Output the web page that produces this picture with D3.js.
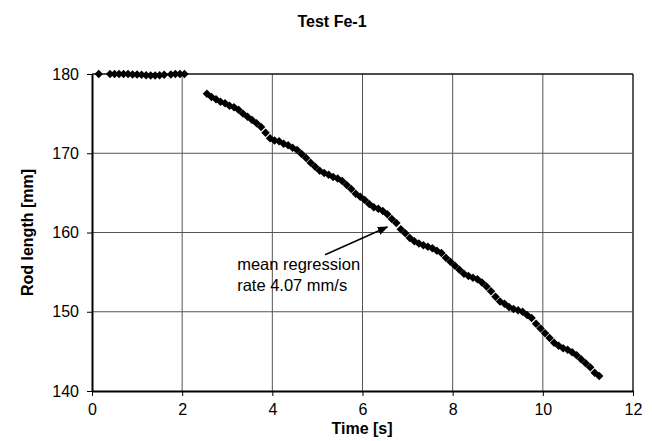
<!DOCTYPE html>
<html>
<head>
<meta charset="utf-8">
<script src="https://cdn.jsdelivr.net/npm/d3@7"></script>
<style>
  body { margin: 0; background: #fff; }
  svg { font-family: "Liberation Sans", Arial, sans-serif; }
</style>
</head>
<body>
<svg id="chart" width="652" height="441"></svg>
<script>
// data
var holdTime = [0.15, 0.4, 0.5, 0.6, 0.7, 0.8, 0.9, 1.0, 1.1, 1.2, 1.3, 1.4, 1.5, 1.6, 1.75, 1.85, 1.95, 2.05];
var holdLength = [180.0, 180.0, 180.0, 180.0, 180.0, 180.0, 179.95, 179.95, 179.9, 179.85, 179.8, 179.8, 179.85, 179.9, 179.95, 180.0, 180.0, 180.0];

var burnTime = [2.55, 2.65, 2.75, 2.85, 2.95, 3.05, 3.15, 3.25, 3.35, 3.45,
  3.55, 3.65, 3.75, 3.85, 3.95, 4.05, 4.15, 4.25, 4.35, 4.45,
  4.55, 4.65, 4.75, 4.85, 4.95, 5.05, 5.15, 5.25, 5.35, 5.45,
  5.55, 5.65, 5.75, 5.85, 5.95, 6.05, 6.15, 6.25, 6.35, 6.45,
  6.55, 6.65, 6.75, 6.85, 6.95, 7.05, 7.15, 7.25, 7.35, 7.45,
  7.55, 7.65, 7.75, 7.85, 7.95, 8.05, 8.15, 8.25, 8.35, 8.45,
  8.55, 8.65, 8.75, 8.85, 8.95, 9.05, 9.15, 9.25, 9.35, 9.45,
  9.55, 9.65, 9.75, 9.85, 9.95, 10.05, 10.15, 10.25, 10.35, 10.45,
  10.55, 10.65, 10.75, 10.85, 10.95, 11.05, 11.15, 11.25];
var burnLength = [177.5, 177.1, 176.8, 176.5, 176.3, 176.0, 175.8, 175.5, 175.0, 174.6,
  174.2, 173.8, 173.3, 172.6, 171.9, 171.6, 171.5, 171.2, 171.0, 170.7,
  170.4, 169.9, 169.4, 168.8, 168.3, 167.8, 167.5, 167.3, 167.0, 166.8,
  166.5, 166.0, 165.5, 164.9, 164.5, 164.1, 163.6, 163.2, 163.0, 162.7,
  162.3, 161.7, 161.2, 160.4, 159.9, 159.3, 158.9, 158.6, 158.4, 158.2,
  158.0, 157.7, 157.4, 156.8, 156.3, 155.8, 155.3, 154.8, 154.5, 154.3,
  154.1, 153.7, 153.2, 152.6, 151.9, 151.3, 151.0, 150.6, 150.35, 150.2,
  150.0, 149.6, 149.2, 148.5, 147.9, 147.3, 146.7, 146.1, 145.7, 145.4,
  145.2, 144.9, 144.5, 144.0, 143.5, 143.0, 142.3, 141.9];

var xTicks = [0, 2, 4, 6, 8, 10, 12];
var yTicks = [140, 150, 160, 170, 180];

var noteLines = ["mean regression", "rate 4.07 mm/s"];
var notePos = [3.22, 155.3];   // text start (time, length)
var arrowFrom = [5.17, 157.2];
var arrowTo = [6.55, 160.7];

var svg = d3.select("#chart");
var plotLeft = 92, plotRight = 633, plotTop = 74, plotBottom = 391;

var x = d3.scaleLinear().domain([0, 12]).range([plotLeft, plotRight]);
var y = d3.scaleLinear().domain([140, 180]).range([plotBottom, plotTop]);

// grid
svg.append("g").selectAll("line").data(xTicks.slice(1)).enter().append("line")
  .attr("x1", function(d) { return x(d); }).attr("x2", function(d) { return x(d); })
  .attr("y1", plotTop).attr("y2", plotBottom)
  .attr("stroke", function(d) { return d == 12 ? "#222" : "#555"; })
  .attr("stroke-width", function(d) { return d == 12 ? 1.5 : 1; });
svg.append("g").selectAll("line").data(yTicks.slice(1)).enter().append("line")
  .attr("x1", plotLeft).attr("x2", plotRight)
  .attr("y1", function(d) { return y(d); }).attr("y2", function(d) { return y(d); })
  .attr("stroke", function(d) { return d == 180 ? "#111" : "#555"; })
  .attr("stroke-width", function(d) { return d == 180 ? 1.5 : 1; });

// axes
var xAxis = svg.append("g")
  .attr("transform", "translate(0," + plotBottom + ")")
  .call(d3.axisBottom(x).tickValues(xTicks).tickSize(5).tickSizeOuter(0));
var yAxis = svg.append("g")
  .attr("transform", "translate(" + plotLeft + ",0)")
  .call(d3.axisLeft(y).tickValues(yTicks).tickSize(5).tickSizeOuter(0));

[xAxis, yAxis].forEach(function(a) {
  a.select(".domain").attr("stroke", "#000").attr("stroke-width", 2);
  a.selectAll(".tick line").attr("stroke", "#000");
  a.selectAll(".tick text").attr("fill", "#000")
    .style("font-size", "16px").style("font-family", "'Liberation Sans', Arial, sans-serif");
});
xAxis.selectAll(".tick text").attr("dy", "1.0em");
yAxis.selectAll(".tick text").attr("x", -13);

// markers
var diamond = d3.symbol().type(d3.symbolSquare).size(36);
function plotPoints(ts, ls) {
  svg.append("g").selectAll("path").data(ts).enter().append("path")
    .attr("d", diamond)
    .attr("transform", function(d, i) {
      return "translate(" + x(d) + "," + y(ls[i]) + ") rotate(45)";
    })
    .attr("fill", "#000");
}
plotPoints(holdTime, holdLength);
plotPoints(burnTime, burnLength);

// annotation
svg.append("defs").append("marker")
  .attr("id", "head").attr("viewBox", "0 0 10 10")
  .attr("refX", 9).attr("refY", 5)
  .attr("markerWidth", 7).attr("markerHeight", 7)
  .attr("orient", "auto")
  .append("path").attr("d", "M0,1 L10,5 L0,9 Z").attr("fill", "#000");

svg.append("line")
  .attr("x1", x(arrowFrom[0])).attr("y1", y(arrowFrom[1]))
  .attr("x2", x(arrowTo[0])).attr("y2", y(arrowTo[1]))
  .attr("stroke", "#000").attr("stroke-width", 1.5)
  .attr("marker-end", "url(#head)");

svg.append("text")
  .attr("x", x(notePos[0])).attr("y", y(notePos[1]))
  .style("font-size", "16.5px")
  .selectAll("tspan").data(noteLines).enter().append("tspan")
  .attr("x", x(notePos[0]))
  .attr("dy", function(d, i) { return i == 0 ? 0 : 21.5; })
  .text(function(d) { return d; });

// titles
svg.append("text").attr("x", 332).attr("y", 27)
  .attr("text-anchor", "middle").style("font-size", "16px").style("font-weight", "bold")
  .text("Test Fe-1");
svg.append("text").attr("x", 362).attr("y", 434)
  .attr("text-anchor", "middle").style("font-size", "16px").style("font-weight", "bold")
  .text("Time [s]");
svg.append("text")
  .attr("transform", "translate(33," + ((plotTop + plotBottom) / 2) + ") rotate(-90)")
  .attr("text-anchor", "middle").style("font-size", "16px").style("font-weight", "bold")
  .text("Rod length [mm]");
</script>
</body>
</html>
